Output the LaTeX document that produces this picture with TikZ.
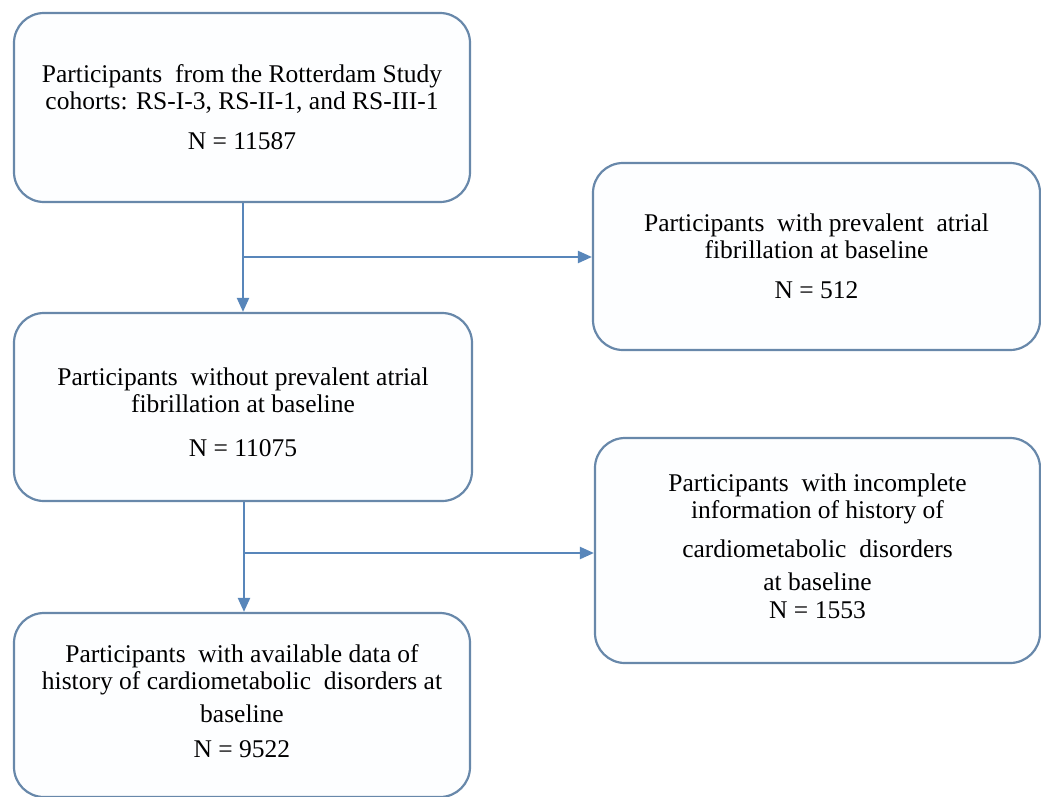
\documentclass[tikz,border=0pt]{standalone}
\usepackage{fontspec}
\setmainfont{Liberation Serif}
\usetikzlibrary{arrows.meta}
\definecolor{boxline}{RGB}{104,136,170}
\definecolor{arrline}{RGB}{88,134,186}
\definecolor{boxfill}{RGB}{253,254,255}
\tikzset{
  flowbox/.style={draw=boxline, line width=2.2pt, fill=boxfill, rounded corners=30pt, inner sep=0pt},
  flowtext/.style={align=center, inner sep=0pt, font=\fontsize{25.5}{27}\selectfont},
  arr/.style={draw=arrline, line width=2.2pt, -{Triangle[length=14pt,width=12pt]}}
}
\begin{document}
\begin{tikzpicture}[x=1pt,y=-1pt]
\useasboundingbox (0,0) rectangle (1041,796);
\node[flowbox, minimum width=456pt, minimum height=189pt] (b1) at (242,107.5) {};
\node[flowtext] (b1t) at (b1.center)
  {Participants~ from the Rotterdam Study\\cohorts: RS-I-3, RS-II-1, and RS-III-1\\[13pt]N = 11587};
\node[flowbox, minimum width=458pt, minimum height=188pt] (b2) at (243,407) {};
\node[flowtext, yshift=-5pt] (b2t) at (b2.center)
  {Participants~ without prevalent atrial\\fibrillation at baseline\\[17pt]N = 11075};
\node[flowbox, minimum width=456pt, minimum height=184pt] (b3) at (242,705) {};
\node[flowtext, yshift=4pt] (b3t) at (b3.center)
  {Participants~ with available data of\\history of cardiometabolic~ disorders at\\[6pt]baseline\\[8pt]N = 9522};
\node[flowbox, minimum width=447pt, minimum height=187pt] (r1) at (816.5,256.5) {};
\node[flowtext] (r1t) at (r1.center)
  {Participants~ with prevalent~ atrial\\fibrillation at baseline\\[13pt]N = 512};
\node[flowbox, minimum width=445pt, minimum height=225pt] (r2) at (817.5,550.5) {};
\node[flowtext, yshift=4pt] (r2t) at (r2.center)
  {Participants~ with incomplete\\information of history of\\[12pt]cardiometabolic~ disorders\\[6pt]at baseline\\[1pt]N = 1553};
\coordinate (j1) at (243,257);
\coordinate (j2) at (244,553);
\draw[arr] (b1.south -| j1) -- (b2.north -| j1);
\draw[arr] (j1) -- (j1 -| r1.west);
\draw[arr] (b2.south -| j2) -- (b3.north -| j2);
\draw[arr] (j2) -- (j2 -| r2.west);
\end{tikzpicture}
\end{document}
